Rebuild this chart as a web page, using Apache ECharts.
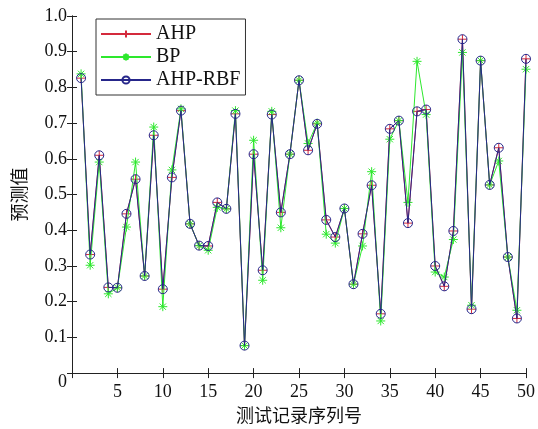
<!DOCTYPE html>
<html><head><meta charset="utf-8">
<script src="https://cdn.jsdelivr.net/npm/echarts@6/dist/echarts.min.js"></script>
<style>html,body{margin:0;padding:0;background:#fff}#c{width:538px;height:429px}</style>
</head><body><div id="c"></div>
<script>
const xIndex = [1,2,3,4,5,6,7,8,9,10,11,12,13,14,15,16,17,18,19,20,21,22,23,24,25,26,27,28,29,30,31,32,33,34,35,36,37,38,39,40,41,42,43,44,45,46,47,48,49,50];
const ahp = [0.826,0.332,0.610,0.240,0.239,0.446,0.543,0.272,0.666,0.235,0.548,0.735,0.418,0.357,0.356,0.478,0.460,0.726,0.077,0.613,0.288,0.724,0.450,0.613,0.820,0.624,0.698,0.429,0.381,0.461,0.249,0.390,0.526,0.166,0.684,0.707,0.420,0.733,0.738,0.300,0.243,0.398,0.935,0.179,0.875,0.527,0.631,0.325,0.153,0.880];
const bp = [0.838,0.302,0.591,0.222,0.239,0.409,0.591,0.272,0.689,0.186,0.569,0.740,0.418,0.357,0.344,0.464,0.460,0.735,0.077,0.652,0.260,0.733,0.407,0.613,0.820,0.643,0.700,0.389,0.364,0.461,0.249,0.356,0.564,0.146,0.655,0.707,0.478,0.873,0.724,0.283,0.269,0.374,0.898,0.190,0.875,0.527,0.594,0.325,0.176,0.851];
const ahpRbf = [0.826,0.332,0.610,0.240,0.239,0.446,0.543,0.272,0.666,0.235,0.548,0.735,0.418,0.357,0.356,0.478,0.460,0.726,0.077,0.613,0.288,0.724,0.450,0.613,0.820,0.624,0.698,0.429,0.381,0.461,0.249,0.390,0.526,0.166,0.684,0.707,0.420,0.733,0.738,0.300,0.243,0.398,0.935,0.179,0.875,0.527,0.631,0.325,0.153,0.880];
const seriesNames = ['AHP','BP','AHP-RBF'];
const xTitle = '测试记录序列号';
const yTitle = '预测值';

const pair = arr => arr.map((v,i)=>[xIndex[i], v]);
const serif = '"Liberation Serif", "Times New Roman", serif';
const cjk = '"Noto Sans CJK SC"';
const RED = '#d42a3c', GREEN = '#2de82d', BLUE = '#26268a';
const plusPath = 'path://M0,-1L0,1M-1,0L1,0';
const starPath = 'path://M0,-1L0,1M-1,0L1,0M-0.7,-0.7L0.7,0.7M-0.7,0.7L0.7,-0.7';

const chart = echarts.init(document.getElementById('c'), null, {renderer:'canvas'});
const axisCommon = {
  axisLine:{show:true, lineStyle:{color:'#222', width:1}},
  axisTick:{show:true, inside:true, length:5, lineStyle:{color:'#222'}},
  splitLine:{show:false}
};
chart.setOption({
  animation:false,
  backgroundColor:'#fff',
  grid:{left:72, right:10, top:16, bottom:54},
  legend:{
    orient:'vertical', left:96, top:19,
    data:seriesNames,
    itemWidth:50, itemHeight:9, itemGap:3,
    backgroundColor:'#fff', borderColor:'#333', borderWidth:1,
    padding:[5,5,5,4],
    textStyle:{fontFamily:serif, fontSize:20, color:'#111'}
  },
  xAxis:[
    Object.assign({type:'value', min:0, max:50, interval:5, position:'bottom',
      axisLabel:{fontFamily:serif, fontSize:18, color:'#111', margin:10,
        formatter:v => v===0 ? '' : String(v)},
      name:xTitle, nameLocation:'middle', nameGap:28,
      nameTextStyle:{fontFamily:cjk, fontSize:18, color:'#111'}}, axisCommon),
    Object.assign({type:'value', min:0, max:50, interval:5, position:'top',
      axisLabel:{show:false}}, axisCommon)
  ],
  yAxis:[
    Object.assign({type:'value', min:0, max:1, interval:0.1, position:'left',
      axisLabel:{fontFamily:serif, fontSize:18, color:'#111', margin:5,
        formatter:v => v===0 ? '{z|0}' : v.toFixed(1),
        rich:{z:{fontFamily:serif, fontSize:18, color:'#111', padding:[18,0,0,0]}}},
      name:yTitle, nameLocation:'middle', nameGap:44, nameRotate:90,
      nameTextStyle:{fontFamily:cjk, fontSize:18, color:'#111'}}, axisCommon),
    Object.assign({type:'value', min:0, max:1, interval:0.1, position:'right',
      axisLabel:{show:false}}, axisCommon)
  ],
  series:[
    {name:seriesNames[0], type:'line', data:pair(ahp), symbol:plusPath, symbolSize:9,
      lineStyle:{color:RED, width:1}, itemStyle:{color:'transparent', borderColor:RED, borderWidth:1}, z:2},
    {name:seriesNames[1], type:'line', data:pair(bp), symbol:starPath, symbolSize:9,
      lineStyle:{color:GREEN, width:1}, itemStyle:{color:'transparent', borderColor:GREEN, borderWidth:1}, z:3},
    {name:seriesNames[2], type:'line', data:pair(ahpRbf), symbol:'circle', symbolSize:9,
      lineStyle:{color:BLUE, width:1}, itemStyle:{color:'transparent', borderColor:BLUE, borderWidth:1}, z:4}
  ]
});
</script></body></html>
